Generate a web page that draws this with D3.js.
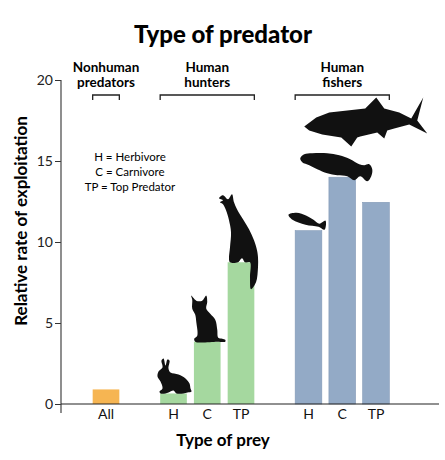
<!DOCTYPE html>
<html lang="en">
  <head>
    <meta charset="UTF-8" />
    <title>Type of predator</title>
    <style>
      body {
        margin: 0;
        background: #fff;
        font-family: Lato, "Open Sans", Arial, sans-serif;
      }
    </style>
  </head>
  <body>
    <div id="chart"></div>

    <script src="https://d3js.org/d3.v7.min.js"></script>
    <script>
      // data
      const groupKeys = ["nonhuman", "hunters", "fishers"];
      const groupLabels = [["Nonhuman", "predators"], ["Human", "hunters"], ["Human", "fishers"]];
      const groupColors = ["#f6b552", "#a5d89f", "#93aac6"];
      const categories = ["All", "H", "C", "TP", "H", "C", "TP"];
      const barGroups = ["nonhuman", "hunters", "hunters", "hunters", "fishers", "fishers", "fishers"];
      const values = [0.9, 0.65, 3.85, 8.75, 10.7, 14.0, 12.45];
      const yTicks = [0, 5, 10, 15, 20];
      const legendLines = ["H = Herbivore", "C = Carnivore", "TP = Top Predator"];

      const width = 445,
        height = 460;

      const svg = d3
        .select("#chart")
        .append("svg")
        .attr("width", width)
        .attr("height", height);

      // one slot per bar, plus an empty slot between groups
      const slots = [];
      barGroups.forEach((g, i) => {
        if (i > 0 && barGroups[i - 1] !== g) slots.push("gap" + i);
        slots.push("bar" + i);
      });

      const x = d3
        .scaleBand()
        .domain(slots)
        .range([89.3, 392.7])
        .paddingInner(0.21)
        .paddingOuter(0.1);

      const y = d3.scaleLinear().domain([0, 20]).range([404, 80]);

      const color = d3.scaleOrdinal().domain(groupKeys).range(groupColors);

      // title
      svg
        .append("text")
        .attr("x", 223)
        .attr("y", 43)
        .attr("text-anchor", "middle")
        .style("font-size", "24px")
        .style("font-weight", "900")
        .text("Type of predator");

      // bars
      svg
        .selectAll(".bar")
        .data(values)
        .enter()
        .append("rect")
        .attr("class", "bar")
        .attr("x", (d, i) => x("bar" + i))
        .attr("y", (d) => y(d))
        .attr("width", x.bandwidth())
        .attr("height", (d) => y(0) - y(d))
        .style("fill", (d, i) => color(barGroups[i]))
        .style("stroke", (d, i) => (barGroups[i] === "fishers" ? "#8399b6" : "none"))
        .style("stroke-width", 0.6);

      // y axis
      const yAxis = svg
        .append("g")
        .attr("transform", "translate(61,0)")
        .call(d3.axisLeft(y).tickValues(yTicks).tickSize(6).tickPadding(2));
      yAxis.select(".domain").remove();
      yAxis.selectAll("line").style("stroke", "#333");
      yAxis
        .selectAll("text")
        .style("font-size", "14px")
        .style("font-family", "Lato, sans-serif")
        .style("fill", "#222");
      svg
        .append("line")
        .attr("x1", 61)
        .attr("x2", 61)
        .attr("y1", y(20))
        .attr("y2", y(0) + 9)
        .style("stroke", "#444")
        .style("stroke-width", 1.2);

      // x baseline
      svg
        .append("line")
        .attr("x1", 61)
        .attr("x2", 439)
        .attr("y1", y(0))
        .attr("y2", y(0))
        .style("stroke", "#222")
        .style("stroke-width", 1.2);

      // category labels
      svg
        .selectAll(".cat")
        .data(categories)
        .enter()
        .append("text")
        .attr("class", "cat")
        .attr("x", (d, i) => x("bar" + i) + x.bandwidth() / 2)
        .attr("y", y(0) + 15)
        .attr("text-anchor", "middle")
        .style("font-size", "14px")
        .style("fill", "#111")
        .text((d) => d);

      svg
        .append("text")
        .attr("x", 223)
        .attr("y", 446)
        .attr("text-anchor", "middle")
        .style("font-size", "17px")
        .style("font-weight", "700")
        .text("Type of prey");

      svg
        .append("text")
        .attr("transform", "translate(27,221) rotate(-90)")
        .attr("text-anchor", "middle")
        .style("font-size", "17px")
        .style("font-weight", "700")
        .text("Relative rate of exploitation");

      // group labels and brackets
      groupKeys.forEach((g, gi) => {
        const idx = barGroups.map((b, i) => (b === g ? i : -1)).filter((i) => i >= 0);
        const x0 = x("bar" + idx[0]);
        const x1 = x("bar" + idx[idx.length - 1]) + x.bandwidth();
        const cx = (x0 + x1) / 2;
        svg
          .append("path")
          .attr("d", `M${x0},100V95H${x1}V100`)
          .style("fill", "none")
          .style("stroke", "#222")
          .style("stroke-width", 1.3);
        svg
          .append("text")
          .attr("text-anchor", "middle")
          .style("font-size", "13.5px")
          .style("font-weight", "700")
          .selectAll("tspan")
          .data(groupLabels[gi])
          .enter()
          .append("tspan")
          .attr("x", cx)
          .attr("y", (d, i) => 72 + i * 15)
          .text((d) => d);
      });

      // legend
      svg
        .append("text")
        .attr("text-anchor", "middle")
        .style("font-size", "11.5px")
        .selectAll("tspan")
        .data(legendLines)
        .enter()
        .append("tspan")
        .attr("x", 130)
        .attr("y", (d, i) => 161 + i * 15)
        .text((d) => d);

      // animal silhouettes, local coords relative to an anchor point
      const rabbit = [
        [-13, 0], [-14, -2], [-11, -5], [-13, -12], [-16, -17], [-15, -22], [-11, -26],
        [-12, -33], [-10, -35], [-8, -28], [-6, -34], [-4, -33], [-5, -25], [-3, -21],
        [5, -19], [12, -15], [16, -10], [17, -5], [18, -2], [14, -1], [10, 0], [3, 0],
        [0, -3], [-5, -1], [-8, 0],
      ];
      const cat = [
        [18, 0], [10, 0], [-12, 0], [-13, -3], [-10, -6], [-11, -20], [-12, -27],
        [-15, -33], [-15, -42], [-16, -46], [-11, -41], [-5, -41], [-1, -46], [0, -40],
        [-1, -33], [3, -28], [8, -22], [10, -12], [11, -4], [15, -3], [18, -2],
      ];
      const wolf = [
        [-22, -64], [-18, -67], [-13, -63], [-9, -68], [-7, -60], [-4, -53], [2, -43],
        [8, -33], [13, -22], [16, -12], [17, -5], [17, 5], [15, 20], [10, 27], [9, 15],
        [9, 0], [4, 0], [1, -4], [-3, 0], [-11, 0], [-12, -3], [-11, -15], [-10, -30],
        [-12, -42], [-15, -52], [-18, -58], [-21, -60], [-18, -62],
      ];
      const smallFish = [
        [-20, -16], [-12, -18], [-2, -15], [5, -11], [11, -7], [17, -10], [16, -1],
        [10, -4], [-3, -6], [-16, -11],
      ];
      const grouper = [
        [-42, -19], [-38, -23], [-30, -24], [-15, -24], [-3, -22], [8, -18], [17, -13],
        [22, -12], [27, -13], [30, -8], [29, -1], [25, 4], [18, -1], [12, 3], [5, -1],
        [-5, -2], [-15, -4], [-25, -8], [-33, -12], [-40, -15],
      ];
      const shark = [
        [-38, 6], [-26, -3], [-13, -8], [23, -12], [34, -23], [42, -12], [57, -8],
        [69, -2], [81, -23], [75, 0], [85, 13], [67, 4], [52, 8], [45, 10], [42, 18],
        [35, 12], [18, 16], [15, 17], [9, 26], [-1, 17], [-20, 14], [-33, 10],
      ];

      const smooth = d3.line().curve(d3.curveCatmullRomClosed.alpha(0.5));
      const sharp = d3.line().curve(d3.curveLinearClosed);
      const barX = (i) => x("bar" + i) + x.bandwidth() / 2;

      const animals = [
        { shape: rabbit, ax: barX(1), ay: y(values[1]), line: smooth },
        { shape: cat, ax: barX(2), ay: y(values[2]), line: smooth },
        { shape: wolf, ax: barX(3), ay: y(values[3]), line: smooth },
        { shape: smallFish, ax: barX(4), ay: y(values[4]), line: smooth },
        { shape: grouper, ax: barX(5), ay: y(values[5]), line: smooth },
        { shape: shark, ax: barX(5), ay: y(17.5), line: sharp },
      ];

      svg
        .selectAll(".animal")
        .data(animals)
        .enter()
        .append("path")
        .attr("class", "animal")
        .attr("transform", (d) => `translate(${d.ax},${d.ay})`)
        .attr("d", (d) => d.line(d.shape))
        .style("fill", "#111");
    </script>
  </body>
</html>
